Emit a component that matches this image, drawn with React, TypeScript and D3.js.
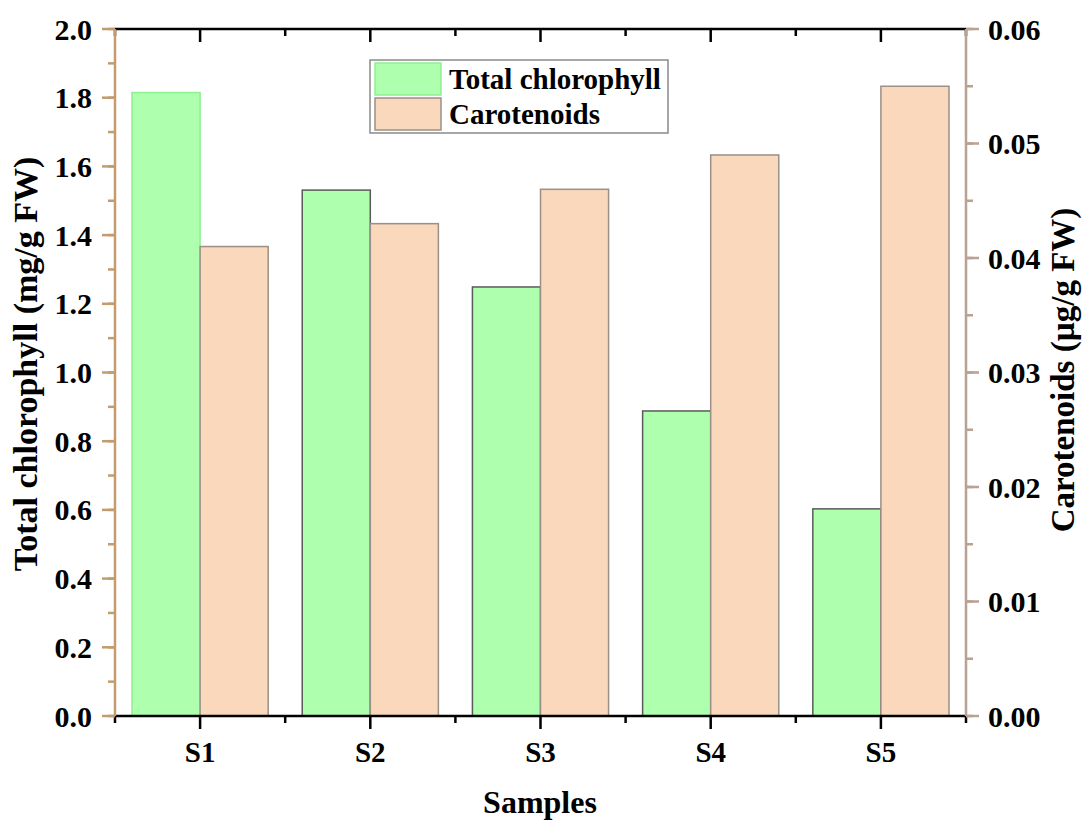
import React, { useRef, useEffect } from "react";
import * as d3 from "d3";

const SAMPLES = ["S1", "S2", "S3", "S4", "S5"];
const CHLOROPHYLL = [1.815, 1.531, 1.249, 0.888, 0.603];
const CAROTENOIDS = [0.041, 0.043, 0.046, 0.049, 0.055];
const LEFT_TICKS = [0, 0.2, 0.4, 0.6, 0.8, 1.0, 1.2, 1.4, 1.6, 1.8, 2.0];
const RIGHT_TICKS = [0, 0.01, 0.02, 0.03, 0.04, 0.05, 0.06];

const GREEN = "#aeffae";
const ORANGE = "#f9d8bc";
const LEFT_AXIS = "#c29b6e";
const RIGHT_AXIS = "#b9a193";
const FONT = "'Liberation Serif', 'Times New Roman', serif";

const W = 1084;
const H = 821;

const App: React.FC = () => {
  const svgRef = useRef<SVGSVGElement | null>(null);

  useEffect(() => {
    if (!svgRef.current) return;
    const svg = d3.select(svgRef.current);
    svg.selectAll("*").remove();

    const margin = { top: 29, right: 118, bottom: 105, left: 115 };
    const innerW = W - margin.left - margin.right;
    const innerH = H - margin.top - margin.bottom;

    const x = d3.scaleBand().domain(SAMPLES).range([0, innerW]).padding(0);
    const yL = d3.scaleLinear().domain([0, 2]).range([innerH, 0]);
    const yR = d3.scaleLinear().domain([0, 0.06]).range([innerH, 0]);

    const g = svg.append("g").attr("transform", `translate(${margin.left},${margin.top})`);

    const barW = x.bandwidth() * 0.4;

    /* bars */
    g.selectAll(".bar-chl")
      .data(SAMPLES)
      .join("rect")
      .attr("x", (d) => x(d)! + x.bandwidth() / 2 - barW)
      .attr("y", (_, i) => yL(CHLOROPHYLL[i]))
      .attr("width", barW)
      .attr("height", (_, i) => innerH - yL(CHLOROPHYLL[i]))
      .attr("fill", GREEN)
      .attr("stroke", (_, i) => (i === 0 ? "#8ef08e" : "#5a5a5a"))
      .attr("stroke-width", 1.5);

    g.selectAll(".bar-car")
      .data(SAMPLES)
      .join("rect")
      .attr("x", (d) => x(d)! + x.bandwidth() / 2)
      .attr("y", (_, i) => yR(CAROTENOIDS[i]))
      .attr("width", barW)
      .attr("height", (_, i) => innerH - yR(CAROTENOIDS[i]))
      .attr("fill", ORANGE)
      .attr("stroke", "#9a9088")
      .attr("stroke-width", 1.5);

    /* bottom & top axes */
    const centers = SAMPLES.map((s) => x(s)! + x.bandwidth() / 2);
    const bounds = d3.range(SAMPLES.length + 1).map((i) => i * x.bandwidth());

    const drawHAxis = (yPos: number, dir: number) => {
      const ax = g.append("g");
      ax.append("line")
        .attr("x1", 0).attr("x2", innerW)
        .attr("y1", yPos).attr("y2", yPos)
        .attr("stroke", "#000").attr("stroke-width", 2.5);
      ax.selectAll(".maj").data(centers).join("line")
        .attr("x1", (d) => d).attr("x2", (d) => d)
        .attr("y1", yPos).attr("y2", yPos + dir * 13)
        .attr("stroke", "#000").attr("stroke-width", 2.5);
      ax.selectAll(".min").data(bounds).join("line")
        .attr("x1", (d) => d).attr("x2", (d) => d)
        .attr("y1", yPos).attr("y2", yPos + dir * 7)
        .attr("stroke", "#000").attr("stroke-width", 2.5);
    };
    drawHAxis(innerH, 1);
    drawHAxis(0, 1);

    g.selectAll(".xlab").data(SAMPLES).join("text")
      .attr("x", (d) => x(d)! + x.bandwidth() / 2)
      .attr("y", innerH + 46)
      .attr("text-anchor", "middle")
      .attr("font-family", FONT).attr("font-weight", "bold").attr("font-size", 29)
      .text((d) => d);

    /* left axis */
    const leftMinor = d3.range(0, 2.0001, 0.1);
    const la = g.append("g");
    la.append("line").attr("x1", 0).attr("x2", 0).attr("y1", 0).attr("y2", innerH)
      .attr("stroke", LEFT_AXIS).attr("stroke-width", 2.5);
    la.selectAll(".min").data(leftMinor).join("line")
      .attr("x1", 0).attr("x2", -7).attr("y1", (d) => yL(d)).attr("y2", (d) => yL(d))
      .attr("stroke", LEFT_AXIS).attr("stroke-width", 2.5);
    la.selectAll(".maj").data(LEFT_TICKS).join("line")
      .attr("x1", 0).attr("x2", -13).attr("y1", (d) => yL(d)).attr("y2", (d) => yL(d))
      .attr("stroke", LEFT_AXIS).attr("stroke-width", 2.5);
    la.selectAll("text").data(LEFT_TICKS).join("text")
      .attr("x", -23).attr("y", (d) => yL(d)).attr("dy", "0.35em")
      .attr("text-anchor", "end")
      .attr("font-family", FONT).attr("font-weight", "bold").attr("font-size", 30)
      .text((d) => d3.format(".1f")(d));

    /* right axis */
    const rightMinor = d3.range(0, 0.06001, 0.005);
    const ra = g.append("g").attr("transform", `translate(${innerW},0)`);
    ra.append("line").attr("x1", 0).attr("x2", 0).attr("y1", 0).attr("y2", innerH)
      .attr("stroke", RIGHT_AXIS).attr("stroke-width", 2.5);
    ra.selectAll(".min").data(rightMinor).join("line")
      .attr("x1", 0).attr("x2", 7).attr("y1", (d) => yR(d)).attr("y2", (d) => yR(d))
      .attr("stroke", RIGHT_AXIS).attr("stroke-width", 2.5);
    ra.selectAll(".maj").data(RIGHT_TICKS).join("line")
      .attr("x1", 0).attr("x2", 13).attr("y1", (d) => yR(d)).attr("y2", (d) => yR(d))
      .attr("stroke", RIGHT_AXIS).attr("stroke-width", 2.5);
    ra.selectAll("text").data(RIGHT_TICKS).join("text")
      .attr("x", 22).attr("y", (d) => yR(d)).attr("dy", "0.35em")
      .attr("text-anchor", "start")
      .attr("font-family", FONT).attr("font-weight", "bold").attr("font-size", 30)
      .text((d) => d3.format(".2f")(d));

    /* axis titles */
    svg.append("text")
      .attr("transform", `translate(37,364) rotate(-90)`)
      .attr("text-anchor", "middle")
      .attr("font-family", FONT).attr("font-weight", "bold").attr("font-size", 34)
      .text("Total chlorophyll (mg/g FW)");
    svg.append("text")
      .attr("transform", `translate(1074,370) rotate(-90)`)
      .attr("text-anchor", "middle")
      .attr("font-family", FONT).attr("font-weight", "bold").attr("font-size", 33)
      .text("Carotenoids (µg/g FW)");
    svg.append("text")
      .attr("x", 540).attr("y", 813)
      .attr("text-anchor", "middle")
      .attr("font-family", FONT).attr("font-weight", "bold").attr("font-size", 32)
      .text("Samples");

    /* legend */
    const lg = svg.append("g").attr("transform", "translate(370,60)");
    lg.append("rect").attr("width", 298).attr("height", 73)
      .attr("fill", "#fff").attr("stroke", "#8a8a8a").attr("stroke-width", 1.5);
    const items = [
      { label: "Total chlorophyll", fill: GREEN, stroke: "#8ef08e" },
      { label: "Carotenoids", fill: ORANGE, stroke: "#9a9088" },
    ];
    items.forEach((it, i) => {
      const yy = 3 + i * 35;
      lg.append("rect").attr("x", 5).attr("y", yy).attr("width", 66).attr("height", 32)
        .attr("fill", it.fill).attr("stroke", it.stroke).attr("stroke-width", 1.5);
      lg.append("text").attr("x", 79).attr("y", yy + 16).attr("dy", "0.35em")
        .attr("font-family", FONT).attr("font-weight", "bold").attr("font-size", 29)
        .text(it.label);
    });
  }, []);

  return (
    <svg
      ref={svgRef}
      width={W}
      height={H}
      style={{ position: "absolute", left: 0, top: 0, display: "block" }}
    />
  );
};

export default App;
